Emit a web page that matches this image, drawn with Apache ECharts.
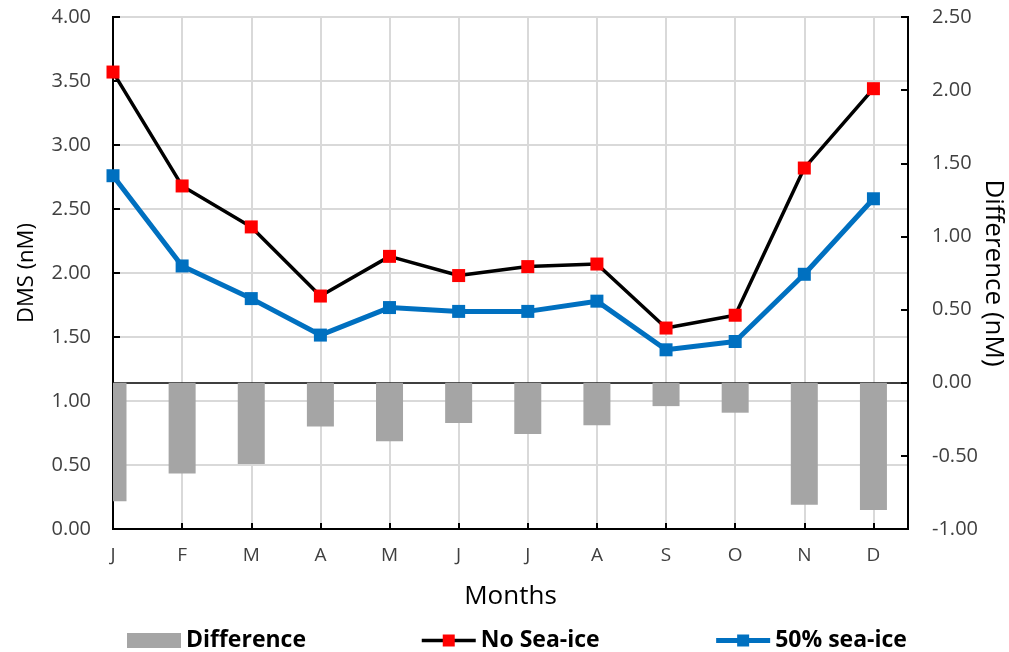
<!DOCTYPE html>
<html>
<head>
<meta charset="utf-8">
<script src="https://cdn.jsdelivr.net/npm/echarts@6/dist/echarts.min.js"></script>
<style>
  html, body { margin: 0; padding: 0; background: #fff; }
  #chart { width: 1009px; height: 652px; }
</style>
</head>
<body>
<div id="chart"></div>
<script>
// ---- Data ----
const months = ['J', 'F', 'M', 'A', 'M', 'J', 'J', 'A', 'S', 'O', 'N', 'D'];
const noSeaIce = [3.57, 2.68, 2.36, 1.82, 2.13, 1.98, 2.05, 2.07, 1.57, 1.67, 2.82, 3.44];
const seaIce50 = [2.76, 2.055, 1.80, 1.515, 1.73, 1.70, 1.70, 1.78, 1.40, 1.465, 1.99, 2.58];
const difference = [-0.81, -0.62, -0.555, -0.30, -0.40, -0.275, -0.35, -0.29, -0.16, -0.205, -0.835, -0.87];
const leftAxisRange = [0, 4, 0.5];
const rightAxisRange = [-1, 2.5, 0.5];

const FONT = 'Open Sans';
const TXT = '#404040';
const BAR_W = 27;

const toPairs = arr => arr.map((v, i) => [i, v]);

// bars drawn through the axes' scales, clipped to the plot area
function renderBar(params, api) {
  const x = api.value(0);
  const y = api.value(1);
  const base = api.coord([x, 0]);
  const top = api.coord([x, y]);
  const y0 = Math.min(base[1], top[1]);
  const h = Math.abs(top[1] - base[1]);
  const cs = params.coordSys;
  const rect = echarts.graphic.clipRectByRect(
    { x: base[0] - BAR_W / 2, y: y0, width: BAR_W, height: h },
    { x: cs.x, y: cs.y, width: cs.width, height: cs.height }
  );
  return rect && { type: 'rect', shape: rect, style: api.style() };
}

const chart = echarts.init(document.getElementById('chart'), null, { renderer: 'canvas' });
chart.setOption({
  animation: false,
  backgroundColor: '#fff',
  textStyle: { fontFamily: FONT },
  grid: {
    left: 113, right: 101, top: 17, bottom: 123,
    outerBoundsMode: 'none', containLabel: false,
    show: true, borderColor: '#000', borderWidth: 2, backgroundColor: 'transparent'
  },
  legend: {
    left: 122, top: 624,
    itemWidth: 54, itemHeight: 15, itemGap: 114,
    textStyle: { fontFamily: FONT, fontSize: 23, fontWeight: 'bold', color: '#000' },
    data: [
      { name: 'Difference', icon: 'rect' },
      { name: 'No Sea-ice', lineStyle: { width: 3.5 } },
      { name: '50% sea-ice', lineStyle: { width: 5 } }
    ]
  },
  xAxis: [
    {
      type: 'value', min: 0, max: months.length - 0.5, interval: 1,
      position: 'bottom',
      name: 'Months', nameLocation: 'middle', nameGap: 55, nameMoveOverlap: false,
      nameTextStyle: { fontFamily: FONT, fontSize: 26, color: '#000' },
      axisLine: { show: true, onZero: false, lineStyle: { color: '#000', width: 2 } },
      axisTick: { show: true, inside: true, length: 6, lineStyle: { color: '#000', width: 2 } },
      axisLabel: {
        fontFamily: FONT, fontSize: 19, color: TXT, margin: 17,
        formatter: v => (Number.isInteger(v) && v < months.length) ? months[v] : ''
      },
      splitLine: { show: true, lineStyle: { color: '#d9d9d9', width: 2 } }
    },
    {
      type: 'value', min: 0, max: months.length - 0.5, interval: 1,
      position: 'bottom',
      axisLine: { show: true, onZero: true, onZeroAxisIndex: 1, lineStyle: { color: '#000', width: 1.5 } },
      axisTick: { show: false }, axisLabel: { show: false }, splitLine: { show: false }
    }
  ],
  yAxis: [
    {
      type: 'value', min: leftAxisRange[0], max: leftAxisRange[1], interval: leftAxisRange[2],
      position: 'left',
      name: 'DMS (nM)', nameLocation: 'middle', nameGap: 75, nameRotate: 90, nameMoveOverlap: false,
      nameTextStyle: { fontFamily: FONT, fontSize: 22, color: '#000' },
      axisLine: { show: true, lineStyle: { color: '#000', width: 2 } },
      axisTick: { show: true, inside: true, length: 7, lineStyle: { color: '#000', width: 2 } },
      axisLabel: { fontFamily: FONT, fontSize: 20, color: TXT, margin: 22, formatter: v => v.toFixed(2) },
      splitLine: { show: true, lineStyle: { color: '#d9d9d9', width: 2 } }
    },
    {
      type: 'value', min: rightAxisRange[0], max: rightAxisRange[1], interval: rightAxisRange[2],
      position: 'right',
      name: 'Difference (nM)', nameLocation: 'middle', nameGap: 72, nameRotate: -90, nameMoveOverlap: false,
      nameTextStyle: { fontFamily: FONT, fontSize: 26, color: '#000' },
      axisLine: { show: true, onZero: false, lineStyle: { color: '#000', width: 2 } },
      axisTick: { show: true, inside: true, length: 7, lineStyle: { color: '#000', width: 2 } },
      axisLabel: { fontFamily: FONT, fontSize: 20, color: TXT, margin: 24, formatter: v => v.toFixed(2) },
      splitLine: { show: false }
    }
  ],
  series: [
    {
      name: 'Difference', type: 'custom',
      xAxisIndex: 0, yAxisIndex: 1,
      data: toPairs(difference),
      encode: { x: 0, y: 1 },
      renderItem: renderBar,
      itemStyle: { color: '#a5a5a5' },
      z: 2
    },
    {
      name: 'No Sea-ice', type: 'line',
      xAxisIndex: 0, yAxisIndex: 0,
      data: toPairs(noSeaIce),
      clip: false,
      symbol: 'rect', symbolSize: 13,
      lineStyle: { color: '#000', width: 3.5 },
      itemStyle: { color: '#ff0000', borderWidth: 0 },
      z: 5
    },
    {
      name: '50% sea-ice', type: 'line',
      xAxisIndex: 0, yAxisIndex: 0,
      data: toPairs(seaIce50),
      clip: false,
      symbol: 'rect', symbolSize: 13,
      lineStyle: { color: '#0070c0', width: 5 },
      itemStyle: { color: '#0070c0', borderWidth: 0 },
      z: 4
    }
  ]
});
</script>
</body>
</html>
